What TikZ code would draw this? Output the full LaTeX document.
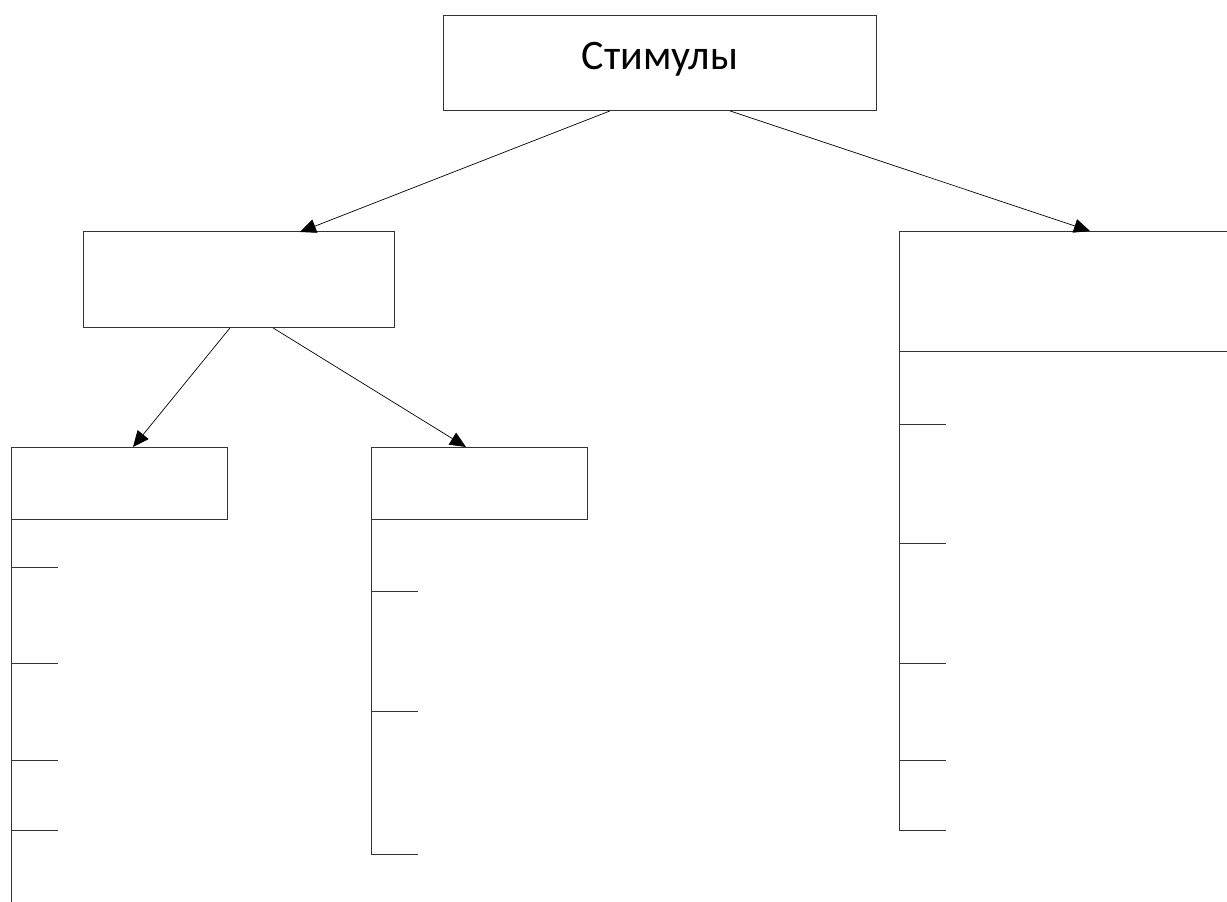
\documentclass[tikz,border=0pt]{standalone}
\usepackage{fontspec}
\setmainfont{Carlito}
\usetikzlibrary{arrows.meta,calc}
\begin{document}
\begin{tikzpicture}[x=1pt,y=-1pt,
  box/.style={draw=black!80,line width=0.9pt,rectangle,inner sep=0pt,anchor=north west},
  ln/.style={draw=black!80,line width=0.9pt},
  arr/.style={draw=black,line width=0.7pt,-{Triangle[length=16pt,width=14pt]}}]
\useasboundingbox (0,0) rectangle (1227,902);
% top box
\node[box,minimum width=433pt,minimum height=95pt,font=\fontsize{42}{48}\selectfont,text depth=14pt] (top) at (443,15) {Стимулы};
% second level left
\node[box,minimum width=311pt,minimum height=96pt] (mid) at (83,231) {};
% third level boxes
\node[box,minimum width=216pt,minimum height=72pt] (l1) at (11,447) {};
\node[box,minimum width=216pt,minimum height=72pt] (l2) at (371,447) {};
% right box (open on the right)
\coordinate (r) at (899,231);
\coordinate (rd) at (899,351);
\draw[ln] (1228,231) -- (r) -- (899,830);
\draw[ln] (rd) -- (1228,351);
% arrows
\draw[arr] ($(top.south west)+(167,0)$) -- ($(mid.north west)+(217,1)$);
\draw[arr] ($(top.south west)+(287,0)$) -- ($(r)+(191,0)$);
\draw[arr] ($(mid.south west)+(147,0)$) -- ($(l1.north west)+(122,0)$);
\draw[arr] ($(mid.south west)+(190,0)$) -- ($(l2.north west)+(95,0)$);
% left column
\draw[ln] (l1.south west) -- (11,902);
\foreach \y in {567,663,760,830} \draw[ln] (11,\y) -- (58,\y);
% middle column
\draw[ln] (l2.south west) -- (371,854);
\foreach \y in {591,711,854} \draw[ln] (371,\y) -- (418,\y);
% right column
\foreach \y in {424,543,663,760,830} \draw[ln] (899,\y) -- (946,\y);
\end{tikzpicture}
\end{document}
